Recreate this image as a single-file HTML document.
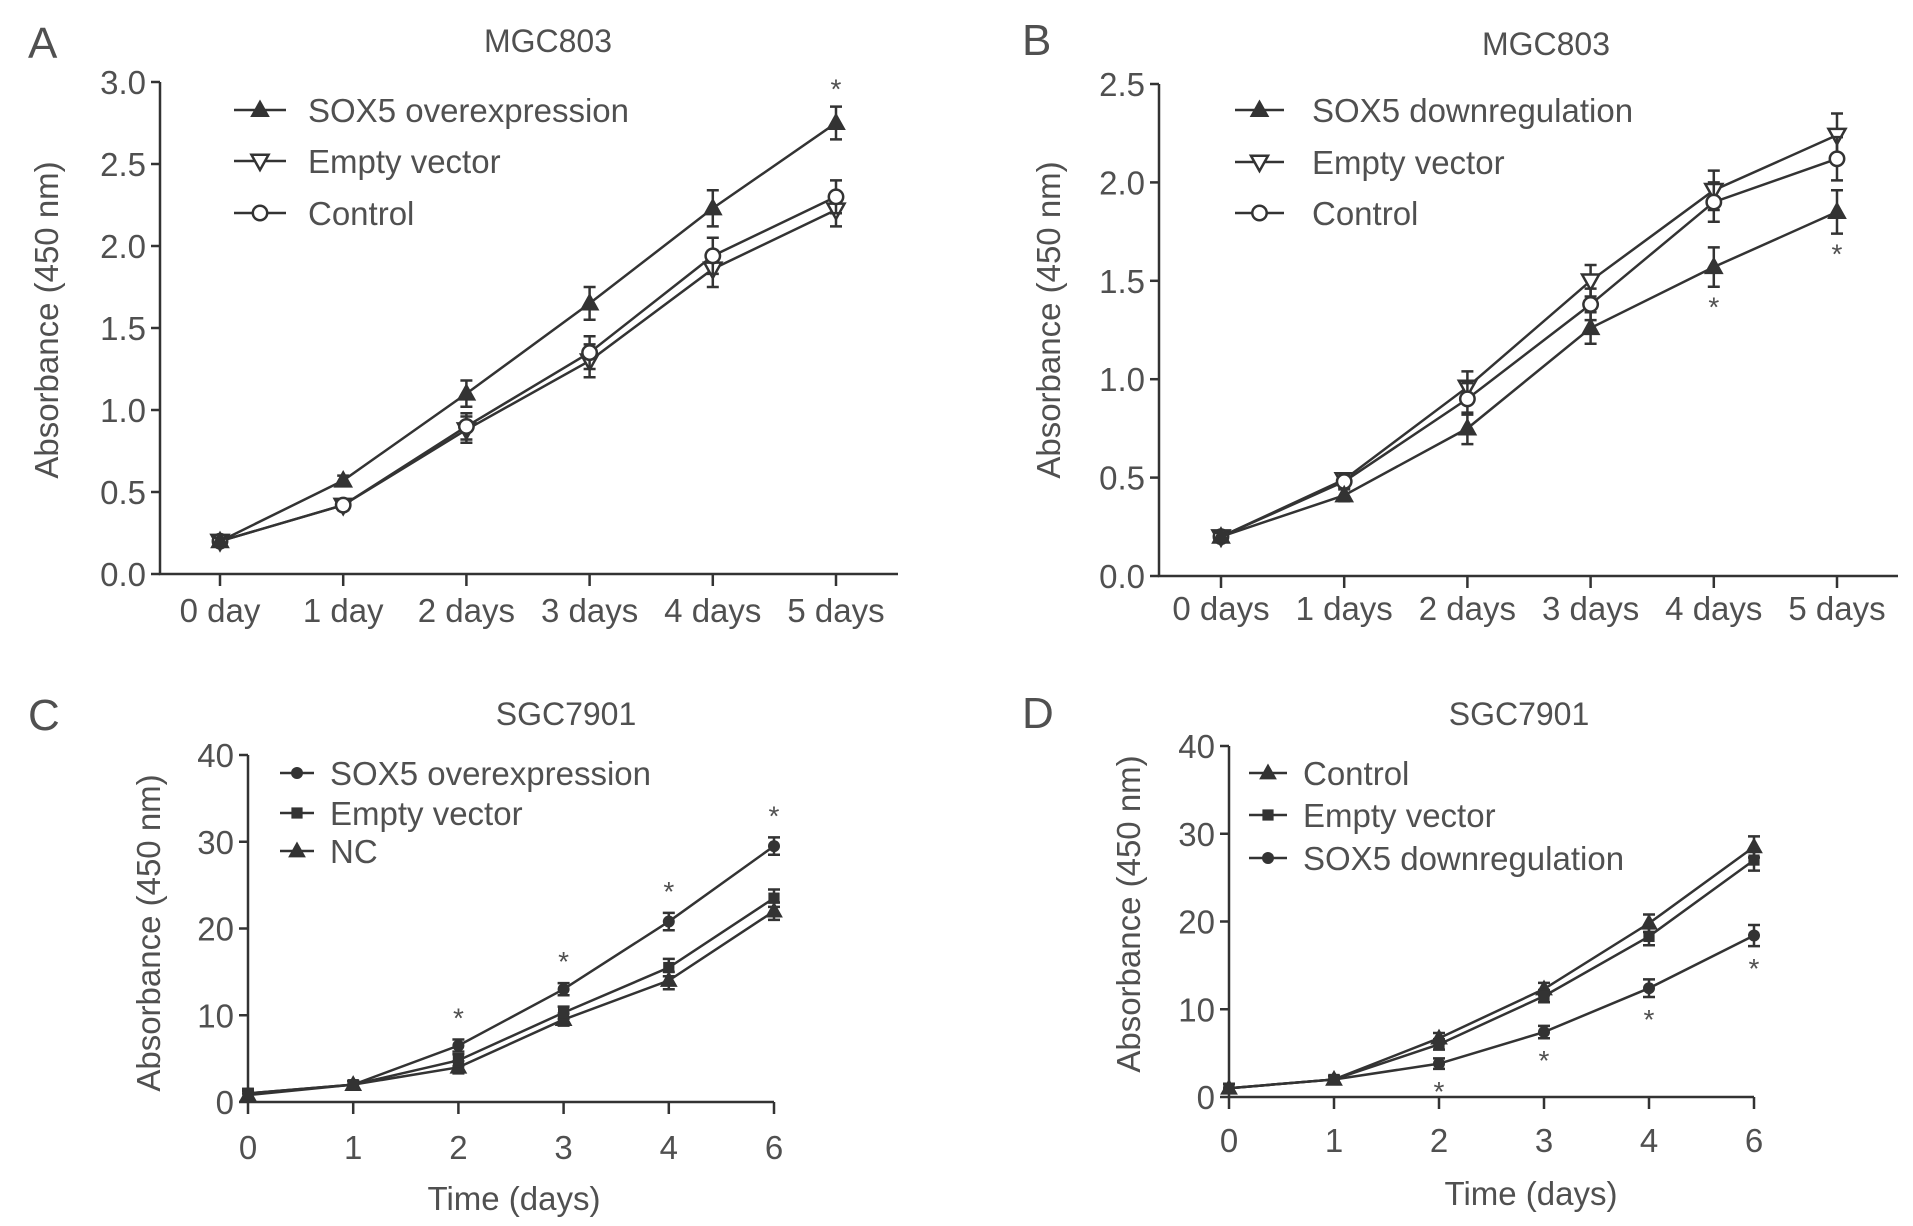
<!DOCTYPE html>
<html><head><meta charset="utf-8"><style>
html,body{margin:0;padding:0;background:#fff}
svg{display:block}
text{font-family:"Liberation Sans",sans-serif;fill:#505050}
</style></head><body>
<svg id="fig" width="1913" height="1226" viewBox="0 0 1913 1226" xmlns="http://www.w3.org/2000/svg"></svg>
<script>
// Panel A data
const catsA = ["0 day","1 day","2 days","3 days","4 days","5 days"];
const aSox = [0.2,0.57,1.1,1.65,2.23,2.75];
const aEv = [0.2,0.42,0.88,1.3,1.86,2.22];
const aCtrl = [0.2,0.42,0.9,1.35,1.94,2.3];
const aErr = [0.02,0.03,0.08,0.1,0.11,0.1];
const aTicks = ["0.0","0.5","1.0","1.5","2.0","2.5","3.0"];
// Panel B data
const catsB = ["0 days","1 days","2 days","3 days","4 days","5 days"];
const bSox = [0.2,0.41,0.75,1.26,1.57,1.85];
const bEv = [0.2,0.49,0.96,1.5,1.96,2.24];
const bCtrl = [0.2,0.48,0.9,1.38,1.9,2.12];
const bErr = [0.02,0.03,0.08,0.08,0.1,0.11];
const bTicks = ["0.0","0.5","1.0","1.5","2.0","2.5"];
// Panel C data
const catsC = ["0","1","2","3","4","6"];
const cSox = [1,2,6.5,13,20.8,29.5];
const cEv = [1,2,4.8,10.3,15.5,23.5];
const cNc = [0.8,2,4,9.5,14,22];
const cErr = [0.5,0.4,0.7,0.7,1,1];
const cTicks = ["0","10","20","30","40"];
// Panel D data
const catsD = ["0","1","2","3","4","6"];
const dCtrl = [1,2,6.7,12.3,19.8,28.5];
const dEv = [1,2,6,11.5,18.3,27];
const dSox = [1,2,3.8,7.4,12.4,18.4];
const dErr = [0.5,0.4,0.6,0.7,1,1.2];
const dTicks = ["0","10","20","30","40"];

const NS="http://www.w3.org/2000/svg";
const svg=document.getElementById('fig');
function mk(tag,attrs,parent){const e=document.createElementNS(NS,tag);for(const k in attrs)e.setAttribute(k,attrs[k]);(parent||svg).appendChild(e);return e;}
const STK="#333";
const FS=33;

function marker(g,type,x,y,s){
  let e;
  if(type==='triUp'){e=mk('polygon',{points:`${x},${y-s} ${x-s*0.95},${y+s*0.7} ${x+s*0.95},${y+s*0.7}`,fill:STK,stroke:STK,'stroke-width':1.5},g);}
  else if(type==='triDown'){e=mk('polygon',{points:`${x},${y+s} ${x-s*0.95},${y-s*0.7} ${x+s*0.95},${y-s*0.7}`,fill:'#fff',stroke:STK,'stroke-width':2.5},g);}
  else if(type==='circOpen'){e=mk('circle',{cx:x,cy:y,r:s*0.8,fill:'#fff',stroke:STK,'stroke-width':2.5},g);}
  else if(type==='circ'){e=mk('circle',{cx:x,cy:y,r:s*0.75,fill:STK},g);}
  else if(type==='sq'){e=mk('rect',{x:x-s*0.7,y:y-s*0.7,width:s*1.4,height:s*1.4,fill:STK},g);}
  
  
  return e;
}

function panel(cfg){
  const g=mk('g',{});
  
  
  const ymax=cfg.ymax;
  const Y=v=>cfg.y0-(v/ymax)*(cfg.y0-cfg.yTop);
  const X=i=>cfg.x0+i*cfg.step;
  let t=mk('text',{x:cfg.letterX,y:cfg.letterY,'font-size':44,fill:'#222'},g);t.textContent=cfg.letter;
  
  t=mk('text',{x:cfg.titleX,y:cfg.titleY,'font-size':32,'text-anchor':'middle'},g);t.textContent=cfg.title;
  
  const ax=mk('path',{d:`M${cfg.axX},${cfg.yTop} L${cfg.axX},${cfg.y0} L${cfg.xEnd},${cfg.y0}`,fill:'none',stroke:STK,'stroke-width':2.5},g);
  
  cfg.yticks.forEach((lab,i)=>{
    const v=parseFloat(lab);const y=Y(v);
    mk('line',{x1:cfg.axX-9,x2:cfg.axX,y1:y,y2:y,stroke:STK,'stroke-width':2.5},g);
    const tt=mk('text',{x:cfg.axX-14,y:y+12,'font-size':FS,'text-anchor':'end'},g);tt.textContent=lab;
    
  });
  cfg.cats.forEach((lab,i)=>{
    const x=X(i);
    mk('line',{x1:x,x2:x,y1:cfg.y0,y2:cfg.y0+12,stroke:STK,'stroke-width':2.5},g);
    const tt=mk('text',{x:x,y:cfg.tickY,'font-size':FS,'text-anchor':'middle'},g);tt.textContent=lab;
    
  });
  t=mk('text',{x:cfg.ylabX,y:cfg.ylabY,'font-size':FS,'text-anchor':'middle',transform:`rotate(-90 ${cfg.ylabX} ${cfg.ylabY})`},g);t.textContent='Absorbance (450 nm)';
  
  if(cfg.xtitle){t=mk('text',{x:cfg.xtX,y:cfg.xtY,'font-size':FS,'text-anchor':'middle'},g);t.textContent=cfg.xtitle;
    }
  cfg.series.forEach(s=>{
    const sg=mk('g',{},g);
    
    const pts=s.vals.map((v,i)=>`${X(i)},${Y(v)}`).join(' ');
    mk('polyline',{points:pts,fill:'none',stroke:STK,'stroke-width':2.5},sg);
    s.vals.forEach((v,i)=>{
      const x=X(i),e=cfg.err[i];
      const y1=Y(v+e),y2=Y(v-e);
      mk('path',{d:`M${x},${y1} L${x},${y2} M${x-6},${y1} L${x+6},${y1} M${x-6},${y2} L${x+6},${y2}`,stroke:STK,'stroke-width':2.5,fill:'none'},sg);
      marker(sg,s.m,x,Y(v),cfg.ms);
    });
  });
  cfg.stars.forEach(i=>{
    const v=cfg.starSeries[i];
    const y=cfg.starBelow?Y(v-cfg.err[i])+cfg.starOff:Y(v+cfg.err[i])-cfg.starOff;
    const st=mk('text',{x:X(i),y:y,'font-size':28,'text-anchor':'middle',fill:'#333'},g);st.textContent='*';
    
  });
  cfg.legend.forEach((L,i)=>{
    const lg=mk('g',{},g);
    
    const y=cfg.legY[i];
    mk('line',{x1:cfg.legX1,x2:cfg.legX2,y1:y,y2:y,stroke:STK,'stroke-width':2.5},lg);
    marker(lg,L.m,(cfg.legX1+cfg.legX2)/2,y,cfg.ms);
    const lt=mk('text',{x:cfg.legTX,y:y+12,'font-size':FS},lg);lt.textContent=L.label;
  });
}

panel({name:'panel-a',letter:'A',letterX:28,letterY:58,title:'MGC803',titleX:548,titleY:52,
  axX:160,xEnd:898,x0:220,step:123.2,yTop:82,y0:574,ymax:3.0,yticks:aTicks,cats:catsA,tickY:622,
  ylabX:58,ylabY:320,err:aErr,ms:9,
  series:[{key:'empty-vector',vals:aEv,m:'triDown'},{key:'control',vals:aCtrl,m:'circOpen'},{key:'sox5-overexpression',vals:aSox,m:'triUp'}],
  stars:[5],starSeries:aSox,starBelow:false,starOff:8,
  legend:[{label:'SOX5 overexpression',m:'triUp'},{label:'Empty vector',m:'triDown'},{label:'Control',m:'circOpen'}],
  legY:[110,161,213],legX1:234,legX2:286,legTX:308});

panel({name:'panel-b',letter:'B',letterX:1022,letterY:55,title:'MGC803',titleX:1546,titleY:55,
  axX:1159,xEnd:1898,x0:1221,step:123.2,yTop:84,y0:576,ymax:2.5,yticks:bTicks,cats:catsB,tickY:620,
  ylabX:1060,ylabY:320,err:bErr,ms:9,
  series:[{key:'empty-vector',vals:bEv,m:'triDown'},{key:'control',vals:bCtrl,m:'circOpen'},{key:'sox5-downregulation',vals:bSox,m:'triUp'}],
  stars:[4,5],starSeries:bSox,starBelow:true,starOff:30,
  legend:[{label:'SOX5 downregulation',m:'triUp'},{label:'Empty vector',m:'triDown'},{label:'Control',m:'circOpen'}],
  legY:[110,162,213],legX1:1235,legX2:1284,legTX:1312});

panel({name:'panel-c',letter:'C',letterX:28,letterY:730,title:'SGC7901',titleX:566,titleY:725,
  axX:248,xEnd:774,x0:248,step:105.2,yTop:755,y0:1102,ymax:40,yticks:cTicks,cats:catsC,tickY:1159,
  ylabX:160,ylabY:933,err:cErr,ms:8,xtitle:'Time (days)',xtX:514,xtY:1210,
  series:[{key:'nc',vals:cNc,m:'triUp'},{key:'empty-vector',vals:cEv,m:'sq'},{key:'sox5-overexpression',vals:cSox,m:'circ'}],
  stars:[2,3,4,5],starSeries:cSox,starBelow:false,starOff:12,
  legend:[{label:'SOX5 overexpression',m:'circ'},{label:'Empty vector',m:'sq'},{label:'NC',m:'triUp'}],
  legY:[773,813,851],legX1:280,legX2:314,legTX:330});

panel({name:'panel-d',letter:'D',letterX:1022,letterY:728,title:'SGC7901',titleX:1519,titleY:725,
  axX:1229,xEnd:1754,x0:1229,step:105,yTop:746,y0:1097,ymax:40,yticks:dTicks,cats:catsD,tickY:1152,
  ylabX:1140,ylabY:914,err:dErr,ms:8,xtitle:'Time (days)',xtX:1531,xtY:1205,
  series:[{key:'control',vals:dCtrl,m:'triUp'},{key:'empty-vector',vals:dEv,m:'sq'},{key:'sox5-downregulation',vals:dSox,m:'circ'}],
  stars:[2,3,4,5],starSeries:dSox,starBelow:true,starOff:32,
  legend:[{label:'Control',m:'triUp'},{label:'Empty vector',m:'sq'},{label:'SOX5 downregulation',m:'circ'}],
  legY:[773,815,858],legX1:1249,legX2:1287,legTX:1303});
</script>
</body></html>
